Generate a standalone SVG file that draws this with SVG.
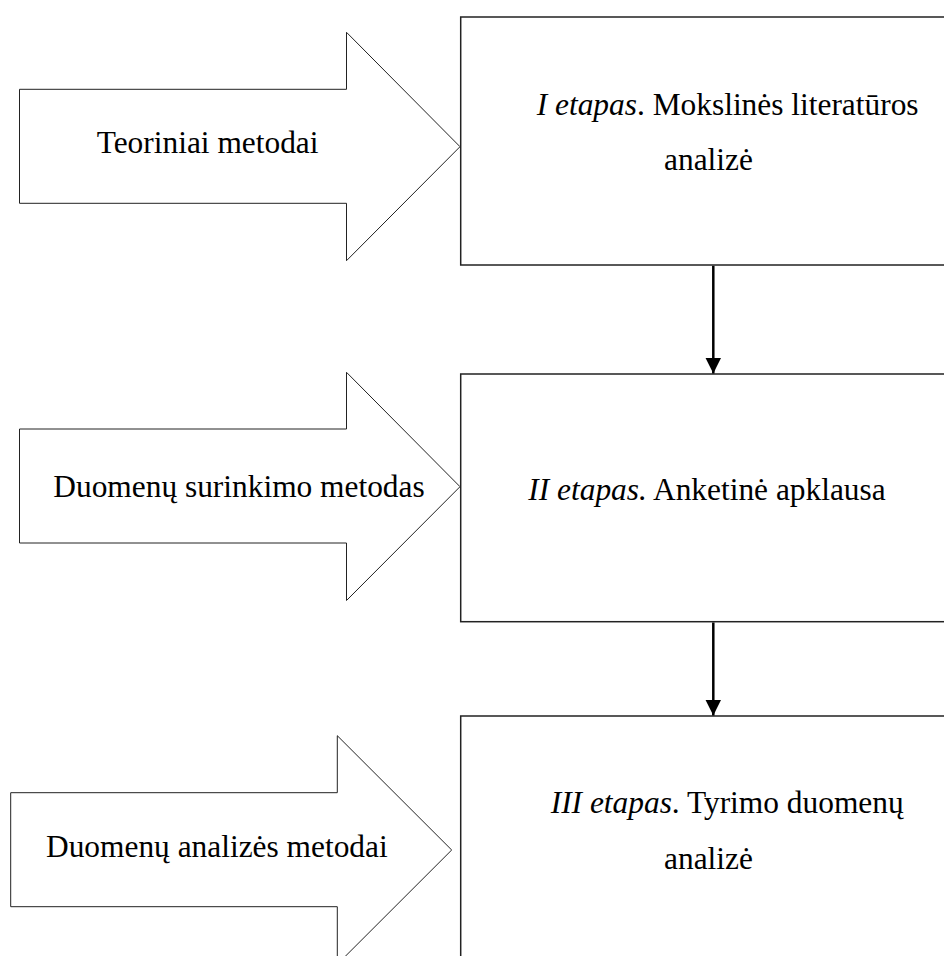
<svg xmlns="http://www.w3.org/2000/svg" width="944" height="956" viewBox="0 0 944 956">
<style>
.arrow{fill:#fff;stroke:#222;stroke-width:1}
.box{fill:#fff;stroke:#222;stroke-width:1.5}
.conn{stroke:#000;stroke-width:2.5;fill:none}
text{font-family:"Liberation Serif","Times New Roman",serif;font-size:31.4px;fill:#000}
.it{font-style:italic}
</style>
<defs>
<marker id="ah" markerUnits="userSpaceOnUse" markerWidth="16" markerHeight="16" refX="16" refY="8" orient="auto">
<path d="M0,0 L16,8 L0,16 Z" fill="#000"/>
</marker>
</defs>
<rect width="944" height="956" fill="#fff"/>
<g id="arrow1">
<path class="arrow" d="M19.5,89.3 H346.5 V32.3 L460,146.7 L346.5,260.7 V203.3 H19.5 Z"/>
<text x="96.7" y="153.3">Teoriniai metodai</text>
</g>
<g id="arrow2">
<path class="arrow" d="M19.5,429 H346.5 V372.3 L460,486.7 L346.5,600.5 V543 H19.5 Z"/>
<text x="53.3" y="496.7">Duomenų surinkimo metodas</text>
</g>
<g id="arrow3">
<path class="arrow" d="M10.7,792.7 H337.3 V735.7 L451.7,850 L337.3,964.3 V906.7 H10.7 Z"/>
<text x="46" y="857.3">Duomenų analizės metodai</text>
</g>
<g id="stage1">
<rect class="box" x="460.7" y="17" width="500" height="248"/>
<text x="536.7" y="115"><tspan class="it">I etapas</tspan>. Mokslinės literatūros</text>
<text x="664" y="170">analizė</text>
</g>
<g id="stage2">
<rect class="box" x="460.7" y="374" width="500" height="247.7"/>
<text x="528.3" y="500"><tspan class="it">II etapas.</tspan> Anketinė apklausa</text>
</g>
<g id="stage3">
<rect class="box" x="460.7" y="716" width="500" height="260"/>
<text x="550.7" y="813.3"><tspan class="it">III etapas</tspan>. Tyrimo duomenų</text>
<text x="664" y="869.3">analizė</text>
</g>
<g id="connectors">
<line class="conn" x1="713.3" y1="265.8" x2="713.3" y2="373.5" marker-end="url(#ah)"/>
<line class="conn" x1="713.3" y1="622.5" x2="713.3" y2="715.5" marker-end="url(#ah)"/>
</g>
</svg>
